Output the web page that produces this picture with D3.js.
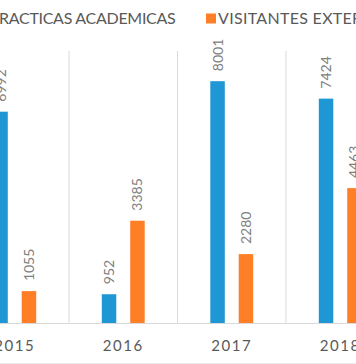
<!DOCTYPE html>
<html><head><meta charset="utf-8">
<script src="https://cdn.jsdelivr.net/npm/d3@7"></script>
<style>html,body{margin:0;padding:0;background:#fff;overflow:hidden}</style>
</head><body>
<svg id="c" width="356" height="364"></svg>
<script>
const categories = ["2015", "2016", "2017", "2018"];
const seriesNames = ["PRACTICAS ACADEMICAS", "VISITANTES EXTERNOS"];
const practicas = [6992, 952, 8001, 7424];
const visitantes = [1055, 3385, 2280, 4463];
const colors = ["#1F97D5", "#FF7F27"];

const svg = d3.select("#c");
const W = 356, H = 364;
const baseY = 323, topY = 51;
const font = "Lato, 'Open Sans', sans-serif";

svg.append("rect").attr("width", W).attr("height", H).attr("fill", "#fff");

const x0 = d3.scaleBand().domain(categories).range([-39.5, 394.5]).padding(0);
const x1 = d3.scaleBand().domain(seriesNames).range([32.8, 75.7]).paddingInner(0.49).paddingOuter(0);
const y = d3.scaleLinear().domain([0, 9000]).range([baseY, topY]);

// vertical category gridlines
svg.append("g").selectAll("line").data(categories.slice(1)).join("line")
  .attr("x1", d => x0(d)).attr("x2", d => x0(d))
  .attr("y1", topY).attr("y2", baseY)
  .attr("stroke", "#d9d9d9").attr("stroke-width", 1);

// baseline
svg.append("line").attr("x1", 0).attr("x2", W).attr("y1", baseY + 0.5).attr("y2", baseY + 0.5)
  .attr("stroke", "#d9d9d9").attr("stroke-width", 1);
// bottom border
svg.append("line").attr("x1", 0).attr("x2", W).attr("y1", 363.5).attr("y2", 363.5)
  .attr("stroke", "#e8e8e8").attr("stroke-width", 1);

const data = categories.map((c, i) => ({cat: c, vals: [
  {s: seriesNames[0], v: practicas[i], col: colors[0]},
  {s: seriesNames[1], v: visitantes[i], col: colors[1]}
]}));

const g = svg.append("g").selectAll("g").data(data).join("g")
  .attr("transform", d => `translate(${x0(d.cat)},0)`);

g.selectAll("rect").data(d => d.vals).join("rect")
  .attr("x", d => x1(d.s)).attr("width", x1.bandwidth())
  .attr("y", d => y(d.v)).attr("height", d => baseY - y(d.v))
  .attr("fill", d => d.col);

g.selectAll("text.lbl").data(d => d.vals).join("text").attr("class", "lbl")
  .attr("transform", d => `translate(${x1(d.s) + x1.bandwidth() / 2 + 5},${y(d.v) - 10}) rotate(-90)`)
  .attr("font-family", font).attr("font-size", 14).attr("fill", "#808080")
  .text(d => d.v);

// category axis labels
svg.append("g").selectAll("text").data(categories).join("text")
  .attr("x", d => x0(d) + x0.bandwidth() / 2).attr("y", 351)
  .attr("text-anchor", "middle").attr("font-family", font).attr("font-size", 15)
  .attr("letter-spacing", 1.5).attr("fill", "#595959")
  .text(d => d);

// legend
const legend = svg.append("g");
function measure(str) {
  const t = svg.append("text").attr("font-family", font).attr("font-size", 16).text(str);
  const w = t.node().getComputedTextLength(); t.remove(); return w;
}
// spacing chosen so the legend text spreads like the reference's wider font
const s1 = "RACTICAS ACADEMICAS", s2 = "VISITANTES EXTE";
const ls1 = (174 - measure(s1)) / (s1.length - 1) + 0.15;
const ls2 = (124 - measure(s2)) / (s2.length - 1) + 0.7;
const wP = measure("P") + ls1;
const lt1x = -1 - wP;
legend.append("text").attr("x", lt1x).attr("y", 24)
  .attr("font-family", font).attr("font-size", 16).attr("letter-spacing", ls1).attr("fill", "#595959")
  .text(seriesNames[0]);
legend.append("rect").attr("x", lt1x - 15).attr("y", 13.5).attr("width", 10).attr("height", 10).attr("fill", colors[0]);
legend.append("rect").attr("x", 206).attr("y", 13.5).attr("width", 10).attr("height", 10).attr("fill", colors[1]);
legend.append("text").attr("x", 218).attr("y", 24)
  .attr("font-family", font).attr("font-size", 16).attr("letter-spacing", ls2).attr("fill", "#595959")
  .text(seriesNames[1]);
</script>
</body></html>
